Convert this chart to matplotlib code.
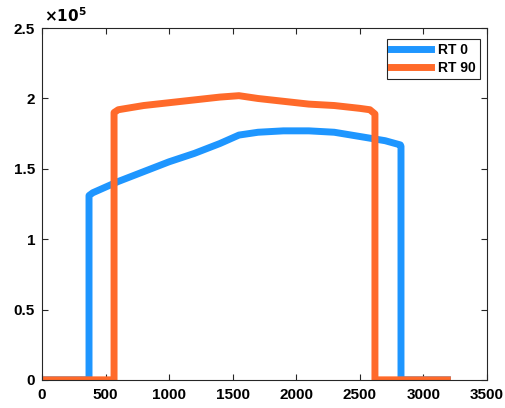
import matplotlib
matplotlib.use("Agg")
import matplotlib.pyplot as plt
import numpy as np

# RT 0 trace
rt0_x = [0, 370, 370, 400, 600, 800, 1000, 1200, 1400, 1550, 1700, 1900, 2100, 2300, 2500, 2700, 2820, 2825, 2825, 3190]
rt0_y = [0, 0, 1.31e5, 1.33e5, 1.41e5, 1.48e5, 1.55e5, 1.61e5, 1.68e5, 1.74e5, 1.76e5, 1.77e5, 1.77e5, 1.76e5, 1.73e5, 1.70e5, 1.67e5, 1.66e5, 0, 0]

# RT 90 trace
rt90_x = [0, 567, 567, 600, 800, 1000, 1200, 1400, 1550, 1700, 1900, 2100, 2300, 2500, 2580, 2620, 2620, 3190]
rt90_y = [0, 0, 1.90e5, 1.92e5, 1.95e5, 1.97e5, 1.99e5, 2.01e5, 2.02e5, 2.00e5, 1.98e5, 1.96e5, 1.95e5, 1.93e5, 1.92e5, 1.89e5, 0, 0]

plt.rcParams["font.family"] = ["Liberation Sans", "DejaVu Sans"]
plt.rcParams["font.weight"] = "bold"

fig = plt.figure(figsize=(5.06, 4.08), dpi=100)
ax = fig.add_axes([0.083, 0.069, 0.879, 0.862])

ax.plot(rt0_x, rt0_y, color="#1e96ff", lw=5, label="RT 0", solid_joinstyle="round")
ax.plot(rt90_x, rt90_y, color="#ff6a2a", lw=5, label="RT 90", solid_joinstyle="round")

ax.set_xlim(0, 3500)
ax.set_ylim(0, 2.5e5)
ax.set_xticks(np.arange(0, 3501, 500))
ax.set_yticks(np.arange(0, 2.51e5, 0.5e5))
ax.set_yticklabels(["0", "0.5", "1", "1.5", "2", "2.5"])
ax.tick_params(direction="in", top=True, right=True, length=4, labelsize=11,
               colors="#262626", labelcolor="black")
ax.tick_params(axis="x", pad=6)
ax.tick_params(axis="y", pad=5)
for lab in ax.get_xticklabels() + ax.get_yticklabels():
    lab.set_fontweight("bold")
for s in ax.spines.values():
    s.set_color("#262626")
    s.set_linewidth(0.8)

ax.text(0.005, 1.01, r"$\mathbf{\times 10^{5}}$", transform=ax.transAxes,
        fontsize=11, ha="left", va="bottom")

leg = ax.legend(loc="upper right", bbox_to_anchor=(1.0, 0.99), fancybox=False,
                edgecolor="#262626", framealpha=1, handlelength=2.9,
                borderpad=0.3, labelspacing=0.3, handletextpad=0.5,
                prop=dict(weight="bold", size=10))
leg.get_frame().set_linewidth(0.8)

fig.savefig("out.png", dpi=100)
